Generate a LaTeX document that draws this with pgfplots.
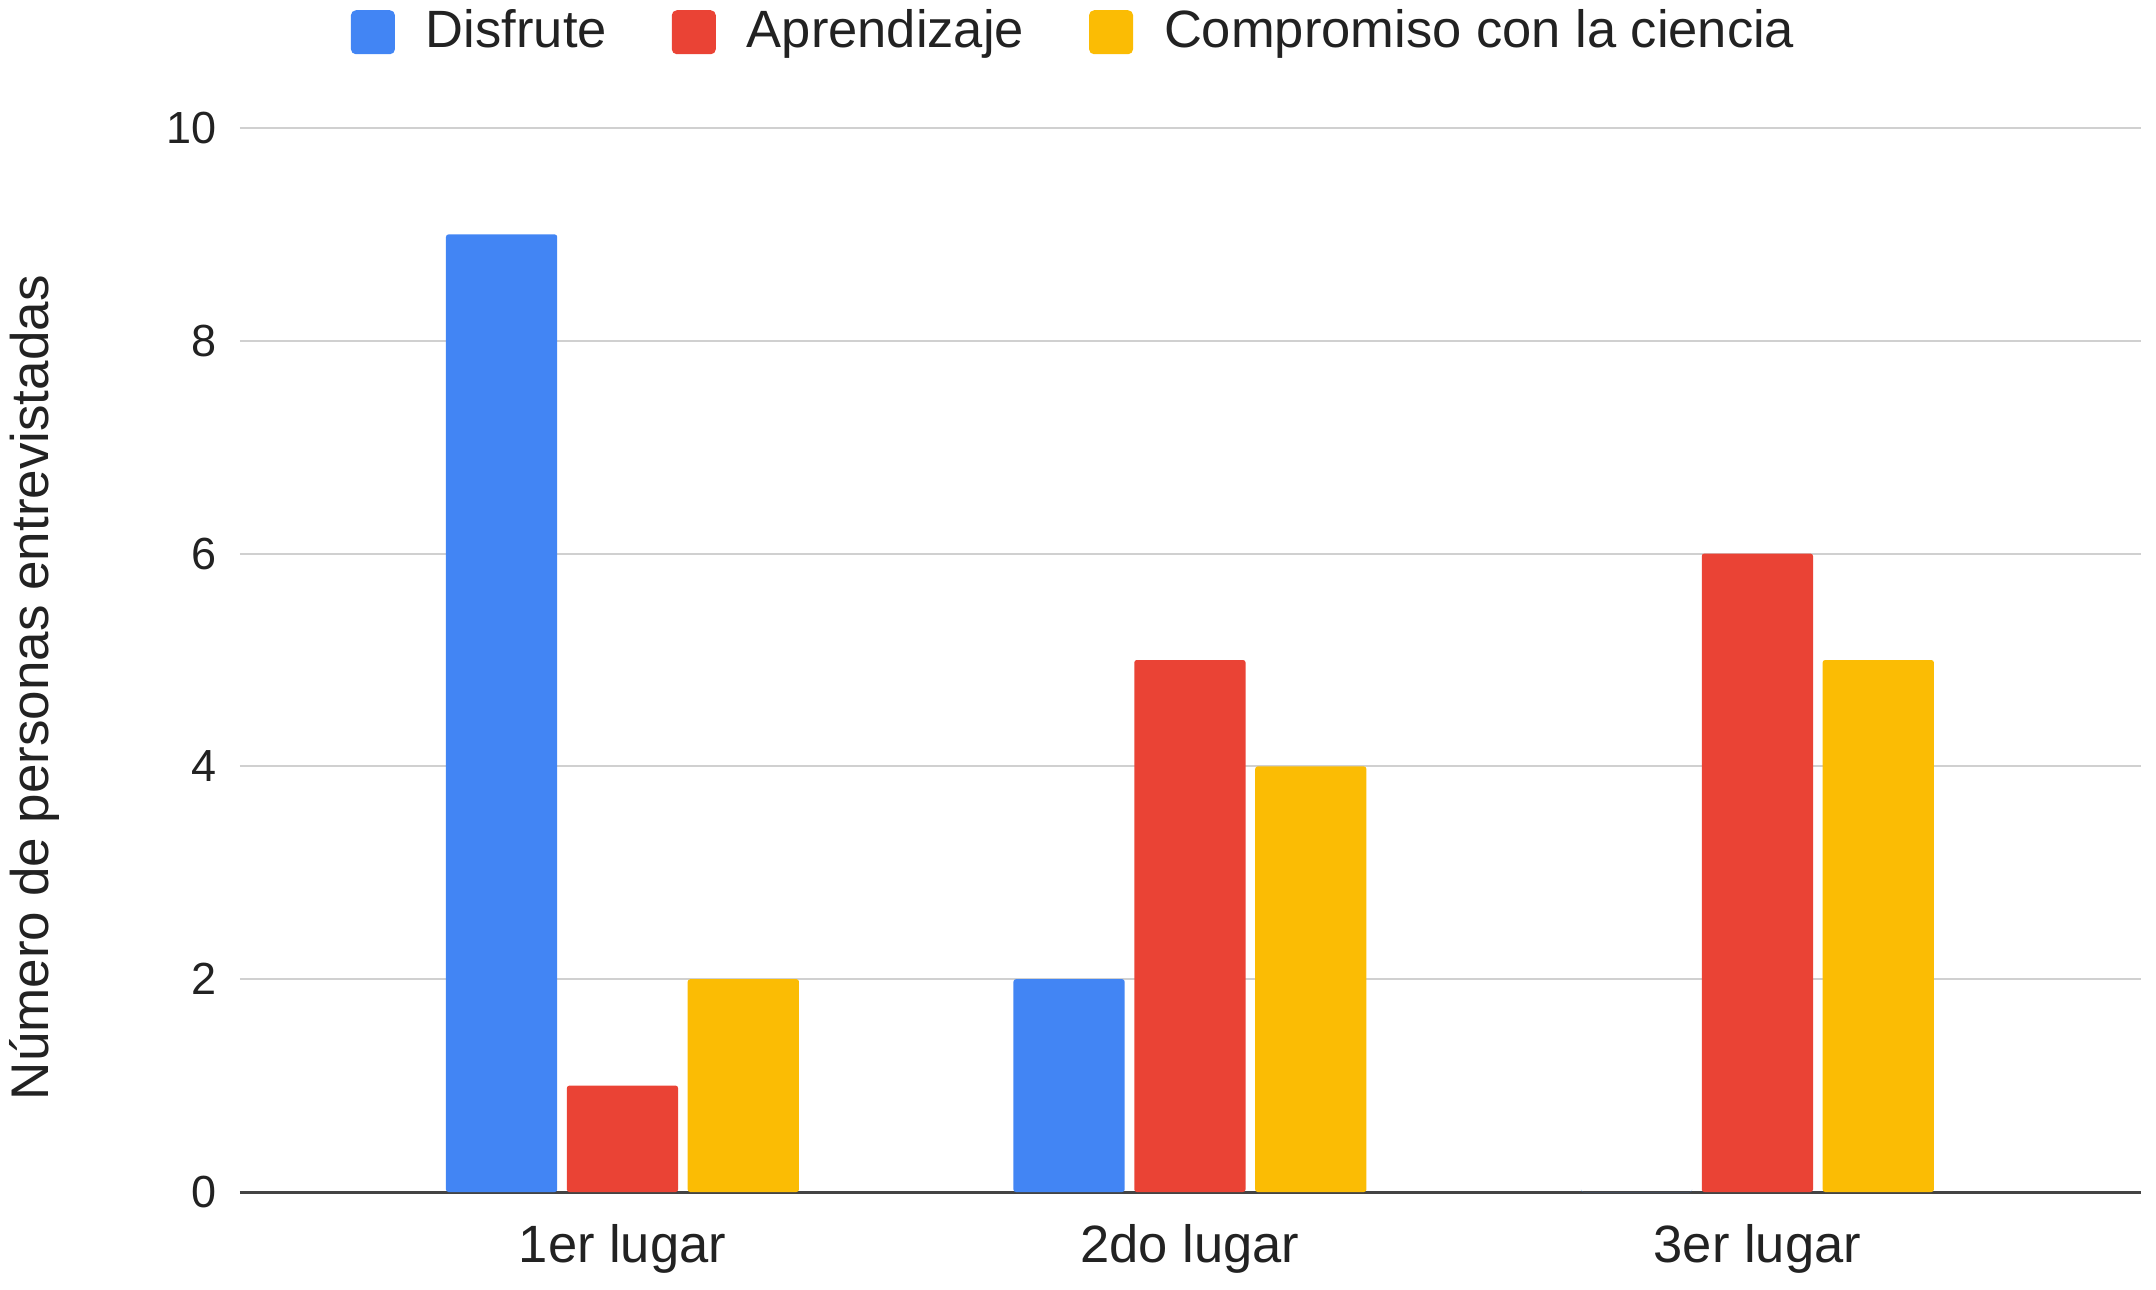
\documentclass[border=0pt]{standalone}
\usepackage{fontspec}
\setmainfont{Liberation Sans}
\usepackage{pgfplots}
\pgfplotsset{compat=1.18}
\definecolor{gblue}{HTML}{4285F4}
\definecolor{gred}{HTML}{EA4335}
\definecolor{gyellow}{HTML}{FBBC04}
\definecolor{gridgray}{HTML}{D0D0D0}
\definecolor{axisgray}{HTML}{444444}
\definecolor{textgray}{HTML}{222222}
\begin{document}
\begin{tikzpicture}
  % page = 2156x1289 px at 0.2pt/px, plot box lower-left at origin
  \useasboundingbox (-48pt,-19.4pt) rectangle (383.2pt,238.4pt);
  \begin{axis}[
    at={(0,0)}, anchor=south west,
    scale only axis, width=380.2pt, height=212.8pt,
    ybar, bar width=0.196,
    xmin=-0.674, xmax=2.676,
    ymin=0, ymax=10,
    xtick={0,1,2},
    xticklabels={1er lugar, 2do lugar, 3er lugar},
    ytick={0,2,4,6,8,10},
    major tick length=0pt,
    axis x line*=bottom, axis y line*=left,
    x axis line style={draw=axisgray, line width=0.6pt},
    y axis line style={draw=none},
    ymajorgrids, grid style={gridgray, line width=0.4pt},
    /pgf/number format/assume math mode=true,
    xticklabel style={font=\fontsize{10.5}{12}\selectfont, text=textgray,
      anchor=base, yshift=-14pt},
    yticklabel style={font=\fontsize{9}{11}\selectfont, text=textgray,
      anchor=east, xshift=-1.1pt},
    ylabel={Número de personas entrevistadas},
    ylabel style={font=\fontsize{10.6}{12}\selectfont, text=textgray, anchor=center,
      at={([xshift=-41.2pt]axis description cs:0,0.474)}},
    legend columns=3,
    legend style={draw=none, fill=none, font=\fontsize{10.5}{12}\selectfont,
      text=textgray,
      at={(axis description cs:0.438,1.090)}, anchor=center,
      nodes={inner sep=0pt},
      /tikz/every odd column/.append style={column sep=6.2pt},
      /tikz/every even column/.append style={column sep=13pt}},
    legend image code/.code={
      \fill[#1, rounded corners=1pt] (0pt,-4.4pt) rectangle (8.8pt,4.4pt);},
  ]
    \addplot[fill=gblue, draw=none, bar shift=-0.213, rounded corners=0.5pt]
      coordinates {(0,9) (1,2) (2,0)};
    \addplot[fill=gred, draw=none, bar shift=0, rounded corners=0.5pt]
      coordinates {(0,1) (1,5) (2,6)};
    \addplot[fill=gyellow, draw=none, bar shift=0.213, rounded corners=0.5pt]
      coordinates {(0,2) (1,4) (2,5)};
    \legend{Disfrute, Aprendizaje, Compromiso con la ciencia}
  \end{axis}
\end{tikzpicture}
\end{document}
